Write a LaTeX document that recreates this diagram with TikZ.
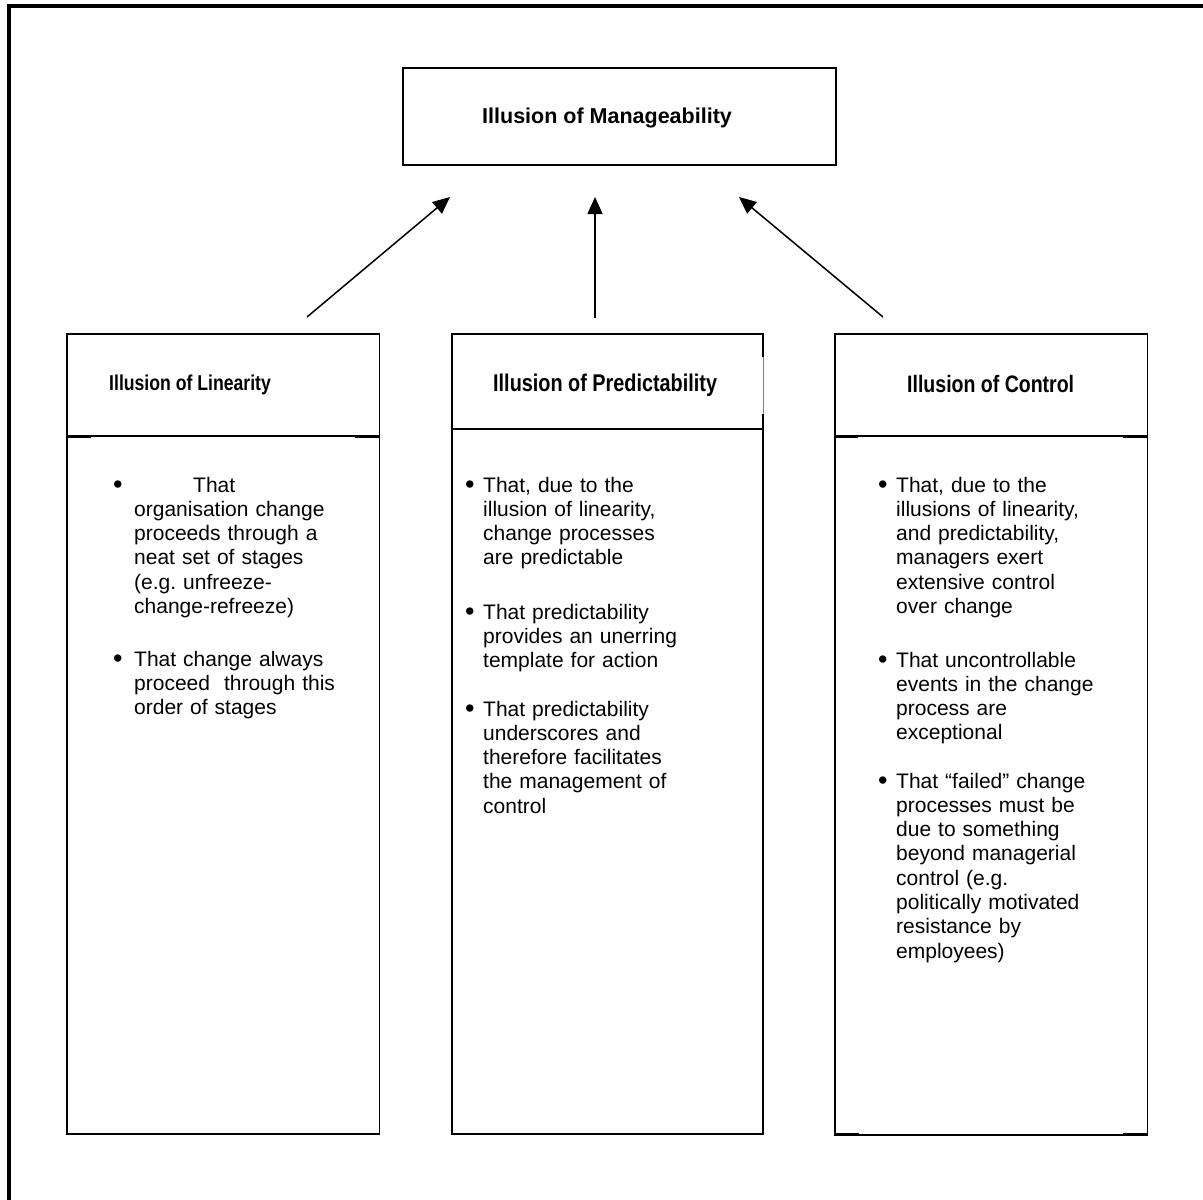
\documentclass[tikz,border=0pt]{standalone}
\usepackage{fontspec}
\setmainfont{Liberation Sans}
\newfontfamily\narrowfont[FakeStretch=0.82]{Liberation Sans}
\usetikzlibrary{arrows.meta}
\frenchspacing

\begin{document}
\begin{tikzpicture}[x=1pt,y=-1pt,
  framerule/.style={line width=4pt},
  colbox/.style={draw, line width=1.5pt, inner sep=0pt, anchor=north west},
  topbox/.style={draw, line width=1.6pt, inner sep=0pt, anchor=north west},
  divider/.style={line width=1.3pt},
  stub/.style={line width=2.2pt},
  linkarrow/.style={line width=1.5pt, -{Triangle[length=17pt,width=15pt]}},
  headtext/.style={inner sep=0pt, anchor=base west},
  bodytext/.style={font=\fontsize{21}{24.3}\selectfont, text width=260pt,
                   align=left, inner sep=0pt, anchor=base west},
  dotmark/.style={font=\fontsize{27}{24.3}\selectfont, inner sep=0pt, anchor=base west}
]
\useasboundingbox (0,0) rectangle (1203,1200);

% page frame (top and left rules)
\draw[framerule] (7,6) -- (1203,6);
\draw[framerule] (9,4) -- (9,1200);

% top box
\node[topbox, minimum width=433pt, minimum height=97pt] (manage) at (402,67) {};
\node[headtext, font=\fontsize{21.5}{24}\selectfont\bfseries] (manageT) at (482,123) {Illusion of Manageability};

% three columns
\node[colbox, minimum width=312.5pt, minimum height=800pt] (colL) at (66,333) {};
\node[colbox, minimum width=311pt, minimum height=800pt] (colM) at (451,333) {};
\node[colbox, minimum width=312.5pt, minimum height=801pt] (colR) at (834,333) {};

% gap in the right edge of the middle column
\draw[white, line width=2.5pt] (762,357) -- (762,414);
\draw[gray, line width=0.8pt] (763,357) -- (763,414);

% header dividers
\draw[divider] (66,436) -- (378.5,436);
\draw[stub] (66,436.5) -- (91,436.5);
\draw[stub] (355,436.5) -- (378.5,436.5);
\draw[line width=1.8pt] (451,429) -- (762,429);
\draw[divider] (834,436) -- (1146.5,436);
\draw[stub] (834,436.5) -- (858,436.5);
\draw[stub] (1123,436.5) -- (1146.5,436.5);
% bottom stubs of the right column
\draw[stub] (834,1134) -- (859,1134);
\draw[stub] (1123,1134) -- (1146.5,1134);

% headers
\node[headtext, font=\fontsize{21.5}{24}\narrowfont\bfseries] (headL) at (109,390) {Illusion of Linearity};
\node[headtext, font=\fontsize{24.2}{26}\narrowfont\bfseries] (headM) at (493,391) {Illusion of Predictability};
\node[headtext, font=\fontsize{23.8}{26}\narrowfont\bfseries] (headR) at (907,392) {Illusion of Control};

% arrows towards the top box
\coordinate (tailL) at (307,317);
\coordinate (tipL) at (450,197);
\coordinate (tailM) at (595,318);
\coordinate (tipM) at (595,197);
\coordinate (tailR) at (883,317);
\coordinate (tipR) at (739,197);
\draw[linkarrow] (tailL) -- (tipL);
\draw[linkarrow] (tailM) -- (tipM);
\draw[linkarrow] (tailR) -- (tipR);

% left column items
\node[dotmark] (lb1) at (113,493) {•};
\node[bodytext] (l1) at (134,492) {\hspace*{59pt}That\\organisation change\\proceeds through a\\neat set of stages\\(e.g. unfreeze-\\change-refreeze)};
\node[dotmark] (lb2) at (113,667) {•};
\node[bodytext] (l2) at (134,666) {That change always\\proceed\ \ through this\\order of stages};

% middle column items
\node[dotmark] (mb1) at (465,493) {•};
\node[bodytext] (m1) at (483,492) {That, due to the\\illusion of linearity,\\change processes\\are predictable};
\node[dotmark] (mb2) at (465,620) {•};
\node[bodytext] (m2) at (483,619) {That predictability\\provides an unerring\\template for action};
\node[dotmark] (mb3) at (465,717) {•};
\node[bodytext] (m3) at (483,716) {That predictability\\underscores and\\therefore facilitates\\the management of\\control};

% right column items
\node[dotmark] (rb1) at (878,493) {•};
\node[bodytext] (r1) at (896,492) {That, due to the\\illusions of linearity,\\and predictability,\\managers exert\\extensive control\\over change};
\node[dotmark] (rb2) at (878,668) {•};
\node[bodytext] (r2) at (896,667) {That uncontrollable\\events in the change\\process are\\exceptional};
\node[dotmark] (rb3) at (878,789) {•};
\node[bodytext] (r3) at (896,788) {That “failed” change\\processes must be\\due to something\\beyond managerial\\control (e.g.\\politically motivated\\resistance by\\employees)};
\end{tikzpicture}
\end{document}
